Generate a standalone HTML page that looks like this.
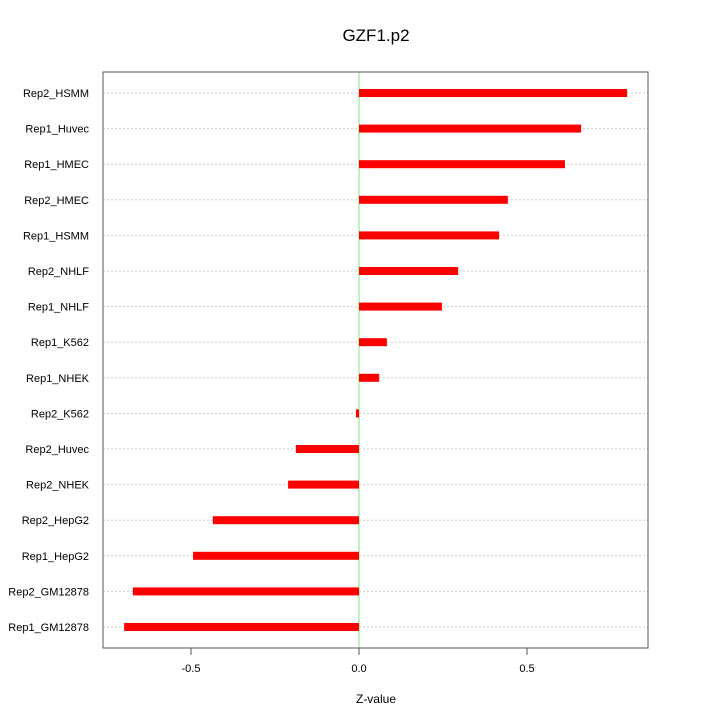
<!DOCTYPE html>
<html><head><meta charset="utf-8"><style>body{margin:0;background:#fff}svg{display:block;font-family:"Liberation Sans",sans-serif}</style></head>
<body>
<svg id="c" width="720" height="720"></svg>
<script>
const categories=["Rep2_HSMM","Rep1_Huvec","Rep1_HMEC","Rep2_HMEC","Rep1_HSMM","Rep2_NHLF","Rep1_NHLF","Rep1_K562","Rep1_NHEK","Rep2_K562","Rep2_Huvec","Rep2_NHEK","Rep2_HepG2","Rep1_HepG2","Rep2_GM12878","Rep1_GM12878"];
const values=[0.798,0.661,0.613,0.443,0.417,0.295,0.247,0.083,0.060,-0.009,-0.188,-0.211,-0.435,-0.494,-0.673,-0.699];
const ticks=[-0.5,0.0,0.5];
const tickLabels=["-0.5","0.0","0.5"];
const NS="http://www.w3.org/2000/svg";
const svg=document.getElementById('c');
const L=103,R=648,T=72,B=648;
const x=v=>359+v*336;
const y=i=>93+i*(627-93)/15;
function mk(t,a,txt){const e=document.createElementNS(NS,t);for(const k in a)e.setAttribute(k,a[k]);if(txt!==undefined)e.textContent=txt;svg.appendChild(e);return e;}
let e=mk('text',{x:376,y:41,'font-size':17,'text-anchor':'middle'},'GZF1.p2');


categories.forEach((c,i)=>{
 let g=mk('line',{x1:L,x2:R,y1:y(i),y2:y(i),stroke:'#ccc','stroke-dasharray':'2,2','stroke-width':1});
 
 
});
e=mk('line',{x1:x(0),x2:x(0),y1:T,y2:B,stroke:'#90ee90','stroke-width':1.2});


categories.forEach((c,i)=>{
 const v=values[i];
 let b=mk('rect',{x:Math.min(x(0),x(v)),y:y(i)-4,width:Math.abs(x(v)-x(0)),height:8,fill:'#ff0000'});
 
 
 let t=mk('text',{x:89,y:y(i)+4,'font-size':11,'text-anchor':'end'},c);
 
 
});
e=mk('rect',{x:L,y:T,width:R-L,height:B-T,fill:'none',stroke:'#555','stroke-width':1});


ticks.forEach((v,i)=>{
 let l=mk('line',{x1:x(v),x2:x(v),y1:B,y2:B+7,stroke:'#555'});
 
 
 let t=mk('text',{x:x(v),y:B+24,'font-size':11,'text-anchor':'middle'},tickLabels[i]);
 
 
});
e=mk('text',{x:376,y:703,'font-size':12,'text-anchor':'middle'},'Z-value');


</script>
</body></html>
